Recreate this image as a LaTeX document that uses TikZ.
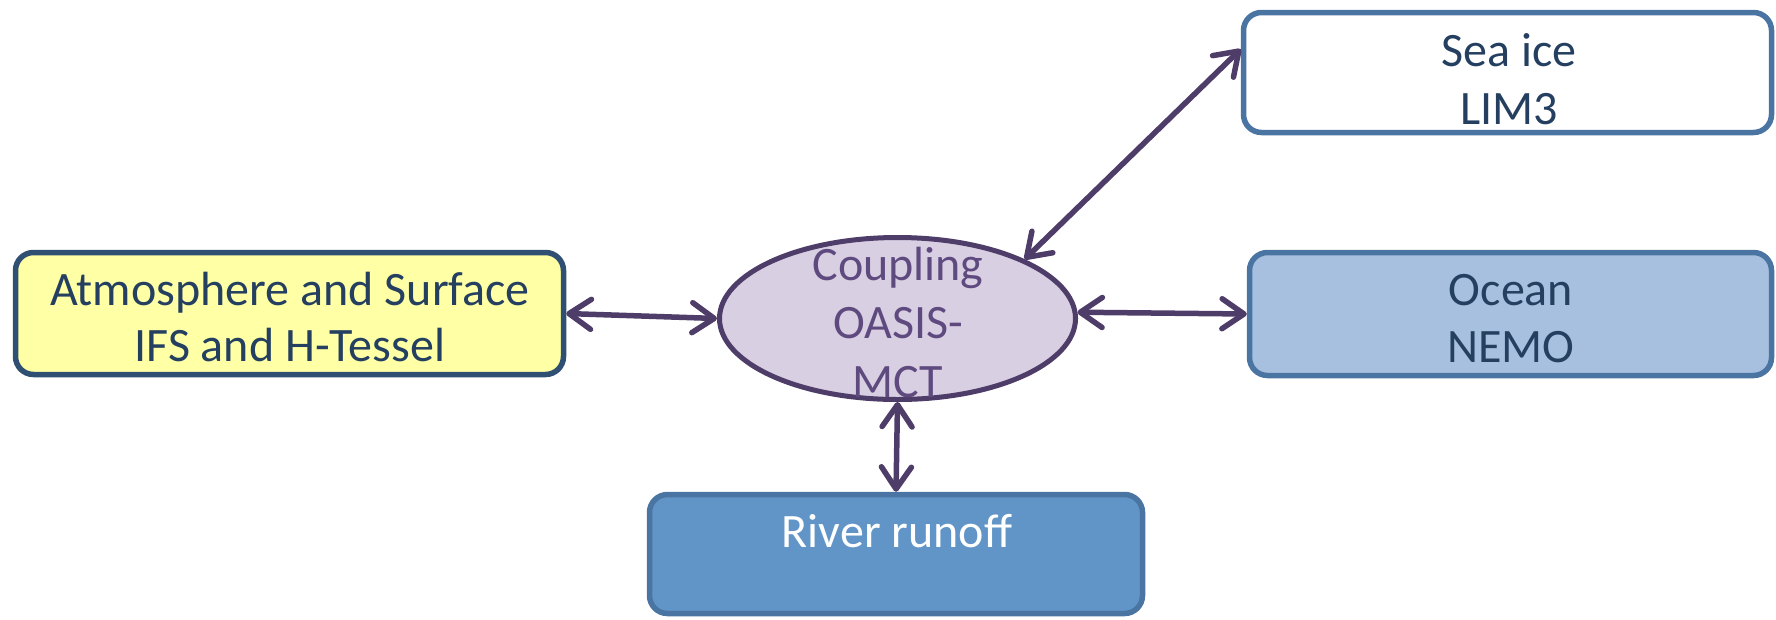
\documentclass[tikz,border=0pt]{standalone}
\usepackage{fontspec}
\setmainfont{Carlito}
\usetikzlibrary{arrows.meta,shapes.geometric}
\definecolor{arrowc}{HTML}{4E3D68}
\definecolor{ellfill}{HTML}{D8CFE3}
\definecolor{elltext}{HTML}{5F4A7F}
\definecolor{atmfill}{HTML}{FFFFA5}
\definecolor{atmdraw}{HTML}{2F5073}
\definecolor{navy}{HTML}{243F60}
\definecolor{bluedraw}{HTML}{4A74A2}
\definecolor{oceanfill}{HTML}{A7C0DF}
\definecolor{riverfill}{HTML}{6195C8}
\tikzset{
  modbox/.style={rectangle, rounded corners=18pt, line width=5.5pt, inner sep=0pt},
  txt/.style={anchor=base, inner sep=0pt, font=\fontsize{48}{56}\selectfont, text=navy},
  link/.style={draw=arrowc, line width=5.5pt, line cap=round,
    arrows={Straight Barb[length=22pt,width=30pt,round]-Straight Barb[length=22pt,width=30pt,round]}}
}
\begin{document}
\begin{tikzpicture}[x=1pt,y=-1pt]
\useasboundingbox (0,0) rectangle (1776,619);
% boxes
\node[modbox, draw=atmdraw, fill=atmfill, minimum width=548pt, minimum height=122pt] (atm) at (289.5,313.5) {};
\node[modbox, draw=bluedraw, fill=white, minimum width=528pt, minimum height=120pt] (sea) at (1507.5,72.5) {};
\node[modbox, draw=bluedraw, fill=oceanfill, minimum width=522pt, minimum height=123pt] (ocean) at (1510.5,314) {};
\node[modbox, draw=bluedraw, fill=riverfill, minimum width=493pt, minimum height=119pt] (river) at (896,554) {};
\node[ellipse, draw=arrowc, fill=ellfill, line width=5pt, inner sep=0pt, minimum width=356pt, minimum height=162pt] (coup) at (897.5,318.5) {};
% texts
\node[txt] (atm1) at (290,305) {Atmosphere and Surface};
\node[txt] (atm2) at (290,361) {IFS and H-Tessel};
\node[txt] (sea1) at (1509,66) {Sea ice};
\node[txt] (sea2) at (1509,124) {LIM3};
\node[txt] (oc1) at (1511,305) {Ocean};
\node[txt] (oc2) at (1511,362) {NEMO};
\node[txt, text=white] (riv1) at (897,547) {River runoff};
\node[txt, text=elltext] (cp1) at (898,280) {Coupling};
\node[txt, text=elltext] (cp2) at (898,338) {OASIS-};
\node[txt, text=elltext] (cp3) at (898,397) {MCT};
% connectors
\draw[link] (atm.east) -- (coup.west);
\draw[link] (coup.2) -- (ocean.west);
\draw[link] (coup.25) -- (sea.175);
\draw[link] (coup.south) -- (river.north);
\end{tikzpicture}
\end{document}
